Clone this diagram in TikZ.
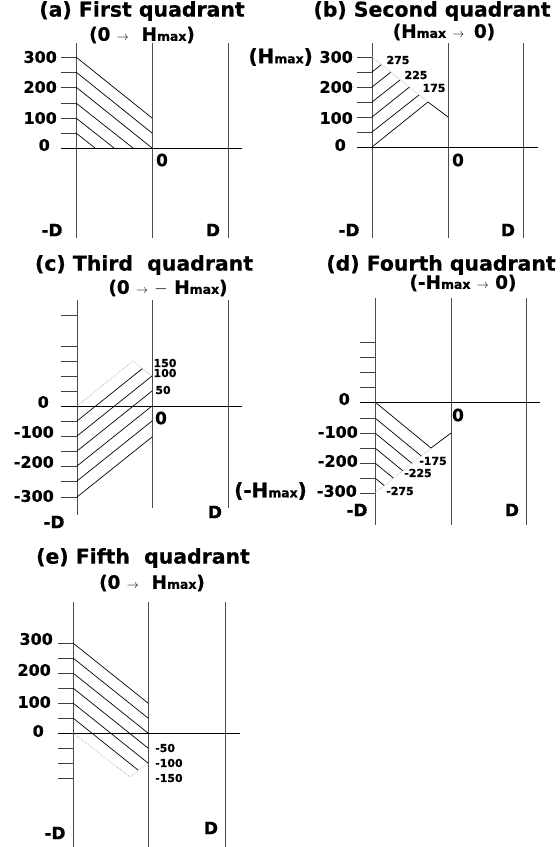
\documentclass[tikz,border=0pt]{standalone}
\usepackage{fontspec}
\setmainfont{DejaVu Sans}[BoldFeatures={FakeBold=0.6}]
\newcommand\fsz[1]{\fontsize{#1}{#1}\selectfont}
\newcommand\Hm{H{\fsz{12.5}max}}
\newcommand\arr{{\fsz{13}\mdseries$\rightarrow$}}
\begin{document}
\begin{tikzpicture}[x=1bp,y=-1bp,
  vline/.style={line width=0.9bp, black!70},
  axisline/.style={line width=0.9bp, black},
  tk/.style={line width=0.9bp, black!75},
  hatch/.style={line width=0.7bp, black},
  dotln/.style={line width=0.7bp, gray!55, densely dotted},
  ylab/.style={anchor=east, font=\bfseries\fsz{16}, inner sep=0pt},
  blab/.style={font=\bfseries\fsz{17}, inner sep=0pt},
  ttl/.style={font=\bfseries\fsz{20.5}, inner sep=0pt},
  sttl/.style={font=\bfseries\fsz{18.5}, inner sep=0pt},
  hlab/.style={font=\bfseries\fsz{20}, inner sep=0pt, anchor=east},
  hl/.style={font=\bfseries\fsz{11}, inner sep=0pt}]
\useasboundingbox (0,0) rectangle (560,847);
\fill[white] (0,0) rectangle (560,847);

% ---------- (a) ----------
\node[ttl] (ta) at (142,11) {(a) First quadrant};
\node[sttl] (sa) at (142,35) {(0 \arr\ \ \Hm)};
\draw[vline] (76,43) -- (76,238);
\draw[vline] (152,43) -- (152,238);
\draw[vline] (228,43) -- (228,238);
\draw[axisline] (61,148) -- (242,148);
\foreach \y in {57,72,87,103,118,133} \draw[tk] (61,\y) -- (76,\y);
\draw[hatch] (76,57) -- (152,118);
\draw[hatch] (76,72) -- (152,133);
\draw[hatch] (76,87) -- (152,148);
\draw[hatch] (76,103) -- (133,148);
\draw[hatch] (76,118) -- (114,148);
\draw[hatch] (76,133) -- (95,148);
\node[ylab] (a300) at (57,57) {300};
\node[ylab] (a200) at (57,87) {200};
\node[ylab] (a100) at (57,118) {100};
\node[ylab] (a0) at (50,145) {0};
\node[blab] (ao) at (162,160) {0};
\node[blab] (amd) at (52,230) {-D};
\node[blab] (ad) at (213,230) {D};

% ---------- (b) ----------
\node[ttl] (tb) at (432,11) {(b) Second quadrant};
\node[sttl] (sb) at (444,32) {(\Hm\ \arr\ \,0)};
\draw[vline] (372,43) -- (372,238);
\draw[vline] (448,43) -- (448,238);
\draw[vline] (523,43) -- (523,238);
\draw[axisline] (357,147) -- (538,147);
\foreach \y in {57,72,87,102,117,132} \draw[tk] (357,\y) -- (372,\y);
\draw[hatch] (372,147) -- (428,102) -- (448,117);
\draw[hatch] (372,132) -- (419,95);
\draw[hatch] (372,117) -- (409.5,87);
\draw[hatch] (372,102) -- (400,80);
\draw[hatch] (372,87) -- (391,72);
\draw[hatch] (372,72) -- (381.5,64.5);
\draw[dotln] (372,57) -- (428,102);
\node[hl] (b275) at (398,60) {275};
\node[hl] (b225) at (416,75) {225};
\node[hl] (b175) at (434,88) {175};
\node[hlab] (bh) at (313,57) {(\Hm)};
\node[ylab] (b300) at (353,57) {300};
\node[ylab] (b200) at (353,87) {200};
\node[ylab] (b100) at (353,118) {100};
\node[ylab] (b0) at (346,145) {0};
\node[blab] (bo) at (458,160) {0};
\node[blab] (bmd) at (349,230) {-D};
\node[blab] (bd) at (508,230) {D};

% ---------- (c) ----------
\node[ttl] (tc) at (144,265) {(c) Third\ \ quadrant};
\node[sttl] (sc) at (168,288) {(0 \arr{} {\fsz{17}$-$} \Hm)};
\draw[vline] (77,300) -- (77,515);
\draw[vline] (152,300) -- (152,508);
\draw[vline] (228,300) -- (228,508);
\draw[axisline] (61,406) -- (242,406);
\foreach \y in {315,346,361,376,391,421,436,451,466,481,497} \draw[tk] (61,\y) -- (77,\y);
\draw[hatch] (77,421) -- (142.5,368.5);
\draw[hatch] (77,436) -- (152,376);
\draw[hatch] (77,451) -- (152,391);
\draw[hatch] (77,466) -- (152,406);
\draw[hatch] (77,481) -- (152,421);
\draw[hatch] (77,497) -- (152,437);
\draw[dotln] (77,406) -- (133,361) -- (152,376);
\node[hl] (c150) at (165,363) {150};
\node[hl] (c100) at (165,373) {100};
\node[hl] (c50) at (163,390) {50};
\node[blab] (c0r) at (161,418) {0};
\node[ylab] (c0) at (49,402) {0};
\node[ylab] (cm100) at (54,432) {-100};
\node[ylab] (cm200) at (54,462) {-200};
\node[ylab] (cm300) at (54,496) {-300};
\node[blab] (cmd) at (54,522) {-D};
\node[blab] (cd) at (215,512) {D};

% ---------- (d) ----------
\node[ttl] (td) at (441,265) {(d) Fourth quadrant};
\node[sttl] (sd) at (463,283) {(-\Hm{} \arr{} 0)};
\draw[vline] (375,298) -- (375,525);
\draw[vline] (451,298) -- (451,525);
\draw[vline] (526,298) -- (526,525);
\draw[axisline] (360,402) -- (540,402);
\foreach \y in {342,357,372,387,418,433,448,463,478,493} \draw[tk] (360,\y) -- (375,\y);
\draw[hatch] (375,402) -- (431,448) -- (451,433);
\draw[hatch] (375,418) -- (421.3,456);
\draw[hatch] (375,433) -- (412,463.4);
\draw[hatch] (375,448) -- (402.8,470.8);
\draw[hatch] (375,463) -- (393.5,478.2);
\draw[hatch] (375,478) -- (384.3,485.6);
\draw[dotln] (375,493) -- (431,448);
\node[hl] (d175) at (433,461) {-175};
\node[hl] (d225) at (418,473) {-225};
\node[hl] (d275) at (400,491) {-275};
\node[ylab] (d0) at (350,399) {0};
\node[ylab] (dm100) at (358,432) {-100};
\node[ylab] (dm200) at (358,461) {-200};
\node[ylab] (dm300) at (357,491) {-300};
\node[hlab] (dh) at (307,491) {(-\Hm)};
\node[blab] (do) at (458,415) {0};
\node[blab] (dmd) at (357,510) {-D};
\node[blab] (dd) at (512,510) {D};

% ---------- (e) ----------
\node[ttl] (te) at (143,558) {(e) Fifth\ \ quadrant};
\node[sttl] (se) at (152,583) {(0 \arr\ \ \Hm)};
\draw[vline] (73,602) -- (73,847);
\draw[vline] (148,602) -- (148,847);
\draw[vline] (225,602) -- (225,847);
\draw[axisline] (58,733) -- (240,733);
\foreach \y in {643,658,673,688,703,718,748,763,778} \draw[tk] (58,\y) -- (73,\y);
\draw[hatch] (73,643) -- (148,703);
\draw[hatch] (73,658) -- (148,718);
\draw[hatch] (73,673) -- (148,733);
\draw[hatch] (73,688) -- (148,748);
\draw[hatch] (73,703) -- (148,763);
\draw[hatch] (73,718) -- (138,770);
\draw[dotln] (73,733) -- (130,777) -- (148,763);
\node[hl, anchor=west] (e50) at (155,748) {-50};
\node[hl, anchor=west] (e100) at (155,763) {-100};
\node[hl, anchor=west] (e150) at (155,778) {-150};
\node[ylab] (e300) at (53,639) {300};
\node[ylab] (e200) at (51,670) {200};
\node[ylab] (e100l) at (51,702) {100};
\node[ylab] (e0) at (44,731) {0};
\node[blab] (emd) at (55,833) {-D};
\node[blab] (ed) at (211,828) {D};
\end{tikzpicture}
\end{document}
